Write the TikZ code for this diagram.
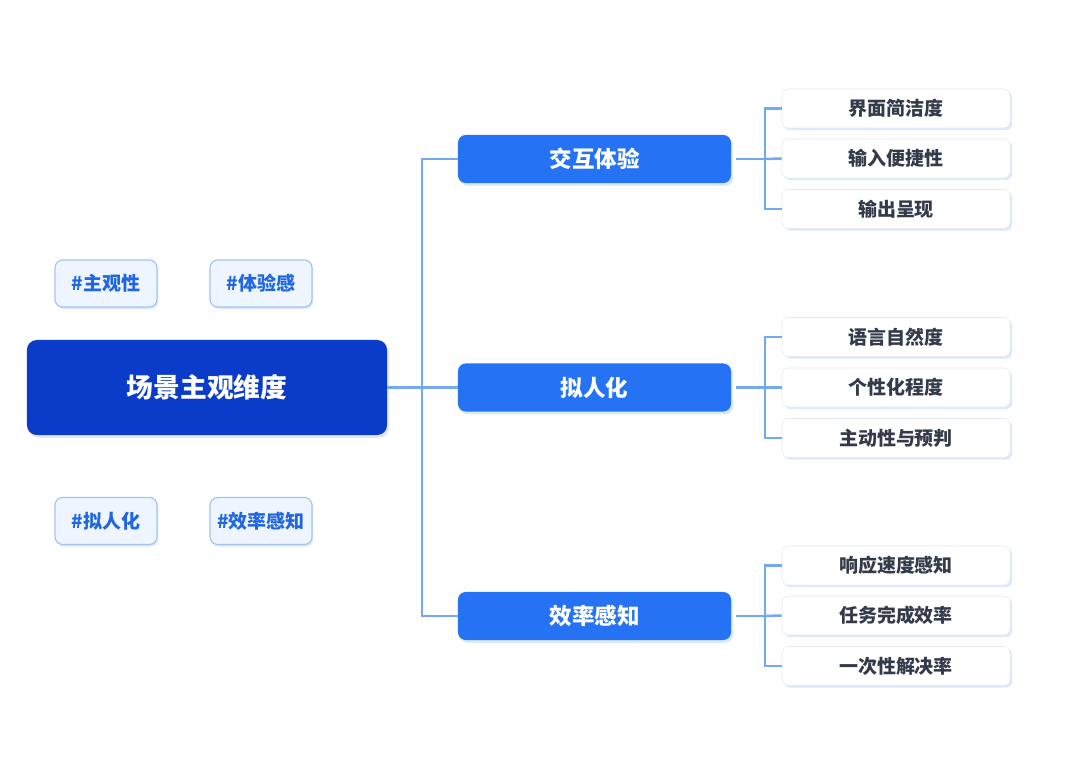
\documentclass[tikz,border=0pt]{standalone}
\usepackage{fontspec}
\setmainfont{Noto Sans CJK SC}
\usepackage{tikz}
\usetikzlibrary{shadows}
\definecolor{deepblue}{HTML}{0B3BC9}
\definecolor{midblue}{HTML}{2672F5}
\definecolor{lineblue}{HTML}{72A9F0}
\definecolor{tagfill}{HTML}{EEF5FF}
\definecolor{tagline}{HTML}{A3C4F3}
\definecolor{tagtext}{HTML}{1F66E0}
\definecolor{leafline}{HTML}{E4EAF3}
\definecolor{leaftext}{HTML}{333B4B}
\definecolor{shadowblue}{HTML}{DCE8FB}
\tikzstyle{rootblock} = [rectangle, fill=deepblue, text=white, minimum width=9cm,
minimum height=2.375cm, rounded corners=7pt, font=\fontsize{19}{22}\selectfont\bfseries,
drop shadow={fill=shadowblue, shadow xshift=1.5pt, shadow yshift=-2pt, opacity=1}]
\tikzstyle{bblock} = [rectangle, fill=midblue, text=white, minimum width=6.825cm,
minimum height=1.2cm, rounded corners=5.5pt, font=\fontsize{16}{19}\selectfont\bfseries,
drop shadow={fill=shadowblue, shadow xshift=1.5pt, shadow yshift=-2pt, opacity=1}]
\tikzstyle{leaf} = [rectangle, draw=leafline, fill=white, text=leaftext, minimum width=5.7cm,
minimum height=0.975cm, rounded corners=4.5pt, font=\fontsize{13.5}{16}\selectfont\bfseries,
drop shadow={fill=shadowblue, shadow xshift=1.5pt, shadow yshift=-1.5pt, opacity=1}]
\tikzstyle{tag} = [rectangle, draw=tagline, line width=0.8pt, fill=tagfill, text=tagtext,
minimum width=2.55cm, minimum height=1.175cm, rounded corners=5.5pt,
font=\fontsize{13.5}{16}\selectfont\bfseries,
drop shadow={fill=shadowblue, shadow xshift=1pt, shadow yshift=-1.5pt, opacity=1}]
\tikzstyle{link} = [draw=lineblue, line width=1.8pt]

\begin{document}
\begin{tikzpicture}[x=0.025cm, y=-0.025cm]
	\useasboundingbox (0,0) rectangle (1080,775);
	% left side
	\node (Root) [rootblock] at (207,387.5) {场景主观维度};
	\node (TagSubj) [tag] at (106,283.5) {\#主观性};
	\node (TagFeel) [tag] at (261,283.5) {\#体验感};
	\node (TagPersona) [tag] at (106,521) {\#拟人化};
	\node (TagSpeed) [tag] at (261,521) {\#效率感知};

	% branches
	\node (Interact) [bblock] at (594.5,159) {交互体验};
	\node (Persona) [bblock] at (594.5,387.5) {拟人化};
	\node (Efficiency) [bblock] at (594.5,616) {效率感知};

	% leaves
	\node (Clean) [leaf] at (896,108.5) {界面简洁度};
	\node (Input) [leaf] at (896,158.5) {输入便捷性};
	\node (Output) [leaf] at (896,209) {输出呈现};
	\node (Language) [leaf] at (896,337) {语言自然度};
	\node (Personal) [leaf] at (896,387.5) {个性化程度};
	\node (Proactive) [leaf] at (896,438) {主动性与预判};
	\node (Response) [leaf] at (896,565.5) {响应速度感知};
	\node (Task) [leaf] at (896,615.5) {任务完成效率};
	\node (OneShot) [leaf] at (896,666) {一次性解决率};

	\coordinate (Spine) at (422,387.5);
	\coordinate (SpineA) at (765,159);
	\coordinate (SpineB) at (765,387.5);
	\coordinate (SpineC) at (765,616);

	\draw [link] (Root) -- (Persona);
	\draw [link] (Interact.west) -| (Spine);
	\draw [link] (Efficiency.west) -| (Spine);

	\draw [link, shorten <=3pt] (Interact.east) -- (SpineA);
	\draw [link] (Clean.west) -| (SpineA);
	\draw [link] (Input.west) -- (SpineA);
	\draw [link] (Output.west) -| (SpineA);

	\draw [link, shorten <=3pt] (Persona.east) -- (SpineB);
	\draw [link] (Language.west) -| (SpineB);
	\draw [link] (Personal.west) -- (SpineB);
	\draw [link] (Proactive.west) -| (SpineB);

	\draw [link, shorten <=3pt] (Efficiency.east) -- (SpineC);
	\draw [link] (Response.west) -| (SpineC);
	\draw [link] (Task.west) -- (SpineC);
	\draw [link] (OneShot.west) -| (SpineC);
\end{tikzpicture}
\end{document}
